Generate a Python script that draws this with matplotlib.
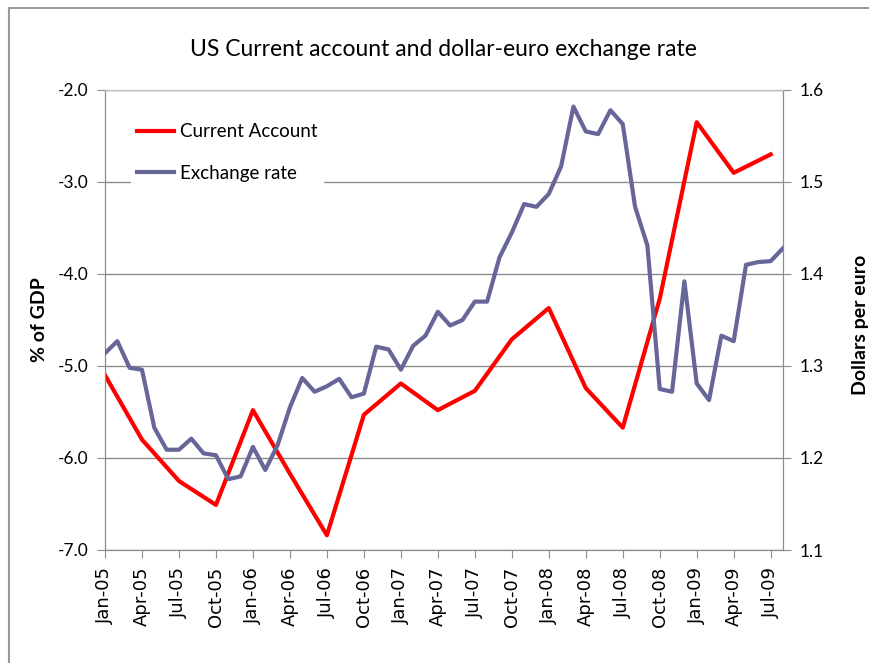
import matplotlib
matplotlib.use('Agg')
from matplotlib import pyplot as plt
import numpy as np

narrow = ['Lato', 'DejaVu Sans']

# monthly categories Jan-05 .. Aug-09
months = ['Jan', 'Feb', 'Mar', 'Apr', 'May', 'Jun', 'Jul', 'Aug', 'Sep', 'Oct', 'Nov', 'Dec']
labels = ['%s-%02d' % (months[i % 12], 5 + i // 12) for i in range(56)]

# dollars per euro, monthly
exchange = [1.314, 1.327, 1.298, 1.296, 1.233, 1.209, 1.209, 1.221, 1.205, 1.203,
            1.177, 1.180, 1.212, 1.187, 1.214, 1.255, 1.287, 1.272, 1.278, 1.286,
            1.266, 1.270, 1.321, 1.318, 1.296, 1.322, 1.333, 1.359, 1.344, 1.350,
            1.370, 1.370, 1.418, 1.445, 1.476, 1.473, 1.487, 1.517, 1.582, 1.555,
            1.552, 1.578, 1.563, 1.473, 1.431, 1.275, 1.272, 1.392, 1.281, 1.263,
            1.333, 1.327, 1.410, 1.413, 1.414, 1.428]

# current account, % of GDP, quarterly (Jan, Apr, Jul, Oct)
ca_idx = list(range(0, 55, 3))
current_account = [-5.10, -5.80, -6.25, -6.51, -5.48, -6.17, -6.84, -5.53, -5.19, -5.48,
                   -5.27, -4.71, -4.37, -5.24, -5.67, -4.27, -2.35, -2.90, -2.70]

grey = '#8c8c8c'

fig = plt.figure(figsize=(8.7, 6.63), dpi=100)
ax1 = fig.add_axes([105 / 870, 1 - 550 / 663, 678 / 870, 460 / 663])

# outer chart frame
fig.patches.append(plt.Rectangle((9 / 870, -0.1), 1.2, 1 - 8 / 663 + 0.1, transform=fig.transFigure,
                                 fill=False, edgecolor='#9a9a9a', linewidth=1.5))

x = np.arange(len(exchange))
l1, = ax1.plot(ca_idx, current_account, color='#ff0000', linewidth=3, label='Current Account', zorder=4)
ax1.set_ylim(-7, -2)
ax1.set_yticks(np.arange(-7, -1.9, 1.0))
ax1.set_yticklabels(['%.1f' % v for v in np.arange(-7, -1.9, 1.0)], family=narrow, fontsize=12.5)
ax1.set_xlim(0, 55)
ax1.set_xticks(range(0, 55, 3))
ax1.set_xticklabels([labels[i] for i in range(0, 55, 3)], rotation=90, fontsize=13, family='DejaVu Sans')
ax1.yaxis.grid(True, color=grey, linewidth=1)
ax1.set_axisbelow(True)
ax1.set_ylabel('% of GDP', fontsize=14, fontweight='bold', family=narrow)
ax1.yaxis.set_label_coords(-0.084, 0.5)
ax1.tick_params(axis='both', direction='out', length=6, color=grey, pad=6)
for s in ax1.spines.values():
    s.set_color(grey)
ax1.spines['top'].set_color('#bbbbbb')

ax2 = ax1.twinx()
l2, = ax2.plot(x, exchange, color='#666699', linewidth=3, label='Exchange rate', zorder=3)
ax2.set_ylim(1.1, 1.6)
ax2.set_yticks(np.arange(1.1, 1.61, 0.1))
ax2.set_yticklabels(['%.1f' % v for v in np.arange(1.1, 1.61, 0.1)], family=narrow, fontsize=12.5)
ax2.set_ylabel('Dollars per euro', fontsize=14, fontweight='bold', family=narrow)
ax2.yaxis.set_label_coords(1.102, 0.49)
ax2.tick_params(axis='y', direction='out', length=6, color=grey, pad=6)
for s in ax2.spines.values():
    s.set_color(grey)
ax2.spines['top'].set_color('#bbbbbb')

leg = ax2.legend(handles=[l1, l2], loc='upper left', bbox_to_anchor=(0.025, 0.96),
                 frameon=True, fancybox=False, edgecolor='white', facecolor='white', framealpha=1,
                 prop={'family': narrow, 'size': 13.5}, handlelength=2.0, handletextpad=0.3,
                 labelspacing=1.3, borderpad=0.3)

fig.text(0.51, 1 - 50 / 663, 'US Current account and dollar-euro exchange rate',
         ha='center', va='center', fontsize=16.5, family=narrow)

fig.savefig('out.png', dpi=100)
